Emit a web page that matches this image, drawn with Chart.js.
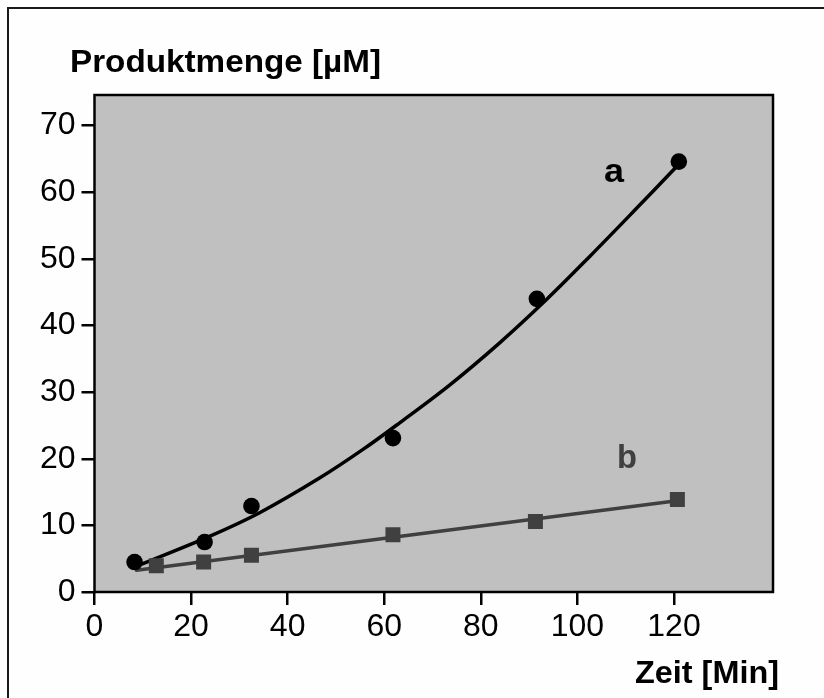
<!DOCTYPE html>
<html>
<head>
<meta charset="utf-8">
<script src="https://cdn.jsdelivr.net/npm/chart.js@4.4.0/dist/chart.umd.min.js"></script>
<style>
  html, body { margin: 0; padding: 0; background: #fefefe; }
  #wrap { position: relative; width: 824px; height: 698px; }
  canvas { display: block; }
</style>
</head>
<body>
<div id="wrap"><canvas id="c" width="824" height="698"></canvas></div>
<script>
// ---- data ----
const seriesALabel = 'a';
const seriesBLabel = 'b';
// measured points, series a (circles)
const aTime  = [8.3, 22.8, 32.5, 61.8, 91.6, 121.0];
const aValue = [4.5, 7.5, 12.9, 23.1, 44.0, 64.6];
// measured points, series b (squares)
const bTime  = [12.8, 22.6, 32.5, 61.8, 91.3, 120.7];
const bValue = [3.95, 4.5, 5.5, 8.6, 10.6, 13.9];
// fitted curve a
const aFitTime  = [9.5, 23.8, 34.2, 46.6, 55.6, 63.2, 73.6, 83.9, 93.6, 102.6, 111.6, 120.6];
const aFitValue = [4.1, 8.35, 11.9, 17.1, 21.4, 25.4, 31.1, 37.4, 43.9, 50.4, 57.1, 63.9];
// fitted line b
const bFitTime  = [8.7, 121.0];
const bFitValue = [3.25, 13.75];
// axis ticks
const xTicks = [0, 20, 40, 60, 80, 100, 120];
const yTicks = [0, 10, 20, 30, 40, 50, 60, 70];
const yTitle = 'Produktmenge [µM]';
const xTitle = 'Zeit [Min]';

const pts = (xs, ys) => xs.map((x, i) => ({ x: x, y: ys[i] }));

const COL_A = '#000000';
const COL_B = '#404040';
const FONT = '"Liberation Sans", Arial, sans-serif';

function fitText(ctx, text, x, y, width, font, color, align) {
  ctx.save();
  ctx.font = font;
  ctx.fillStyle = color;
  ctx.textBaseline = 'alphabetic';
  ctx.textAlign = 'left';
  const w = ctx.measureText(text).width;
  const s = width / w;
  const left = align === 'right' ? x - width : x;
  ctx.translate(left, y);
  ctx.scale(s, 1);
  ctx.fillText(text, 0, 0);
  ctx.restore();
}

const decor = {
  id: 'decor',
  beforeDraw(chart) {
    const ctx = chart.ctx;
    const a = chart.chartArea;
    ctx.save();
    ctx.fillStyle = '#fefefe';
    ctx.fillRect(0, 0, chart.width, chart.height);
    // outer frame (top and left visible)
    ctx.strokeStyle = '#1a1a1a';
    ctx.lineWidth = 2;
    ctx.beginPath();
    ctx.moveTo(8, 698);
    ctx.lineTo(8, 8);
    ctx.lineTo(824, 8);
    ctx.stroke();
    // plot background
    ctx.fillStyle = '#c0c0c0';
    ctx.fillRect(a.left, a.top, a.right - a.left, a.bottom - a.top);
    ctx.restore();
  },
  afterDatasetsDraw(chart) {
    const ctx = chart.ctx;
    const a = chart.chartArea;
    const xs = chart.scales.x, ys = chart.scales.y;
    ctx.save();
    ctx.strokeStyle = '#000';
    ctx.lineWidth = 2.5;
    ctx.strokeRect(a.left, a.top, a.right - a.left, a.bottom - a.top);
    ctx.restore();
    // series labels
    fitText(ctx, seriesALabel, xs.getPixelForValue(105.5), ys.getPixelForValue(61.6), 20, 'bold 33px ' + FONT, COL_A, 'left');
    fitText(ctx, seriesBLabel, xs.getPixelForValue(108.2), ys.getPixelForValue(18.6), 20, 'bold 33px ' + FONT, COL_B, 'left');
    // axis titles
    fitText(ctx, yTitle, 70, 72, 311, 'bold 32px ' + FONT, '#000', 'left');
    fitText(ctx, xTitle, 779, 683, 144, 'bold 32px ' + FONT, '#000', 'right');
  }
};

new Chart(document.getElementById('c'), {
  type: 'scatter',
  data: {
    datasets: [
      { label: 'fit a', data: pts(aFitTime, aFitValue), showLine: true, borderColor: COL_A, borderWidth: 3.5,
        pointRadius: 0, tension: 0.35, order: 2 },
      { label: 'fit b', data: pts(bFitTime, bFitValue), showLine: true, borderColor: COL_B, borderWidth: 3.5,
        pointRadius: 0, order: 2 },
      { label: seriesALabel, data: pts(aTime, aValue), showLine: false, pointStyle: 'circle', pointRadius: 8.3,
        backgroundColor: COL_A, borderColor: COL_A, borderWidth: 0, order: 1 },
      { label: seriesBLabel, data: pts(bTime, bValue), showLine: false, pointStyle: 'rect', pointRadius: 10.6,
        backgroundColor: COL_B, borderColor: COL_B, borderWidth: 0, order: 1 }
    ]
  },
  options: {
    responsive: false,
    animation: false,
    devicePixelRatio: 1,
    layout: { padding: { top: 95, right: 51, left: 0, bottom: 0 } },
    plugins: { legend: { display: false }, tooltip: { enabled: false }, title: { display: false } },
    elements: { line: { borderCapStyle: 'round' } },
    scales: {
      x: {
        type: 'linear', min: 0, max: 140.5,
        afterBuildTicks: (s) => { s.ticks = xTicks.map(v => ({ value: v })); },
        afterFit: (s) => { s.height = 106; },
        grid: { display: true, drawOnChartArea: false, drawTicks: true, tickLength: 13, color: '#000', lineWidth: 2.5 },
        border: { display: false },
        ticks: { color: '#000', font: { family: FONT, size: 32 }, padding: 3, maxRotation: 0, autoSkip: false }
      },
      y: {
        type: 'linear', min: 0, max: 74.6,
        afterBuildTicks: (s) => { s.ticks = yTicks.map(v => ({ value: v })); },
        afterFit: (s) => { s.width = 94.5; },
        grid: { display: true, drawOnChartArea: false, drawTicks: true, tickLength: 13, color: '#000', lineWidth: 2.5 },
        border: { display: false },
        ticks: { color: '#000', font: { family: FONT, size: 32 }, padding: 6, autoSkip: false }
      }
    }
  },
  plugins: [decor]
});
</script>
</body>
</html>
